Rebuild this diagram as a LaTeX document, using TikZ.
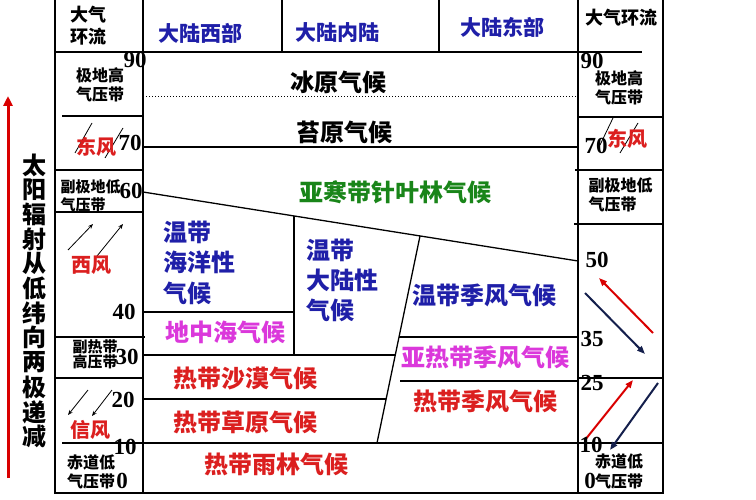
\documentclass[tikz,border=0pt]{standalone}
\usepackage{fontspec}
\setmainfont{Liberation Serif}
\newfontfamily\cjk{Noto Sans CJK SC}
\usepackage{tikz}
\usetikzlibrary{arrows.meta}
\definecolor{navytext}{rgb}{0.12, 0.12, 0.66}
\definecolor{redtext}{rgb}{0.86, 0.12, 0.12}
\definecolor{magtext}{rgb}{0.86, 0.22, 0.86}
\definecolor{greentext}{rgb}{0.10, 0.52, 0.10}
\definecolor{navyarrow}{rgb}{0.08, 0.12, 0.30}

\begin{document}
\begin{tikzpicture}[x=1pt,y=-1pt,
		frame/.style={line width=1.3pt},
		zone/.style={font=\cjk\bfseries\fontsize{24}{24}\selectfont},
		head/.style={font=\cjk\bfseries\fontsize{21}{21}\selectfont, color=navytext},
		belt/.style={font=\cjk\bfseries\fontsize{16}{19}\selectfont, align=center},
		wind/.style={font=\cjk\bfseries\fontsize{20}{20}\selectfont, color=redtext},
		lat/.style={font=\bfseries\fontsize{23}{23}\selectfont},
		windline/.style={line width=0.8pt, -{Stealth[length=5pt,width=4pt]}},
		bigarrow/.style={line width=2pt, -{Triangle[length=8pt,width=6pt]}}]
			\useasboundingbox (0,0) rectangle (756,500);
			\draw[frame] (55,0) -- (55,493) -- (663,493) -- (663,0);
			\draw[frame] (143,0) -- (143,493);
			\draw[frame] (578,0) -- (578,493);
			\draw[frame] (282,0) -- (282,52);
			\draw[frame] (439,0) -- (439,52);
			\draw[frame] (55,52) -- (578,52);
			\draw[frame] (570,52) -- (642,52);
			\draw[line width=1pt, dotted] (143,97) -- (578,97);
			\draw[frame] (143,147) -- (578,147);
			\draw[frame] (143,192) -- (578,261);
			\draw[frame] (294,216) -- (294,355);
			\draw[frame] (143,312) -- (294,312);
			\draw[frame] (143,355) -- (395,355);
			\draw[frame] (420,236) -- (377,443);
			\draw[frame] (143,399) -- (386,399);
			\draw[frame] (399,337) -- (578,337);
			\draw[frame] (400,381) -- (578,381);
			\draw[frame] (62,443) -- (663,443);
			\draw[frame] (62,116) -- (143,116);
			\draw[frame] (55,170) -- (143,170);
			\draw[frame] (55,212) -- (143,212);
			\draw[frame] (55,337) -- (145,337);
			\draw[frame] (55,378) -- (143,378);
			\draw[frame] (578,117) -- (663,117);
			\draw[frame] (575,170) -- (663,170);
			\draw[frame] (574,224) -- (663,224);
			\draw[frame] (578,378) -- (663,378);
			\draw[line width=3pt, red!85!black, -{Triangle[length=10pt,width=9pt]}] (8,478) -- (8,96);
			\foreach \c [count=\i from 0] in {太,阳,辐,射,从,低,纬,向,两,极,递,减}
				\node[font=\cjk\bfseries\fontsize{24}{24}\selectfont] (sun\i) at (35,165+24.7*\i) {\c};
			\node[head] (west) at (200,33) {大陆西部};
			\node[head] (inland) at (337,33) {大陆内陆};
			\node[head] (east) at (502,27) {大陆东部};
			\node[zone] (ice) at (338,82) {冰原气候};
			\node[zone] (tundra) at (344,132) {苔原气候};
			\node[zone, color=greentext] (taiga) at (395,192) {亚寒带针叶林气候};
			\node[zone, color=navytext, anchor=west] (ocean1) at (160,232) {温带};
			\node[zone, color=navytext, anchor=west] (ocean2) at (160,262) {海洋性};
			\node[zone, color=navytext, anchor=west] (ocean3) at (160,293) {气候};
			\node[zone, color=navytext, anchor=west] (cont1) at (303,250) {温带};
			\node[zone, color=navytext, anchor=west] (cont2) at (303,280) {大陆性};
			\node[zone, color=navytext, anchor=west] (cont3) at (303,310) {气候};
			\node[zone, color=navytext] (tmonsoon) at (484,295) {温带季风气候};
			\node[zone, color=magtext] (medit) at (225,332) {地中海气候};
			\node[zone, color=magtext] (smonsoon) at (485,357) {亚热带季风气候};
			\node[zone, color=redtext] (desert) at (245,378) {热带沙漠气候};
			\node[zone, color=redtext] (savanna) at (245,422) {热带草原气候};
			\node[zone, color=redtext] (rmonsoon) at (485,401) {热带季风气候};
			\node[zone, color=redtext] (rainforest) at (276,464) {热带雨林气候};
			\node[belt, font=\cjk\bfseries\fontsize{18}{22}\selectfont] (circL) at (88,26) {大气\\环流};
			\node[belt, font=\cjk\bfseries\fontsize{18}{22}\selectfont] (circR) at (621,18) {大气环流};
			\node[belt] (polarL) at (100,85) {极地高\\气压带};
			\node[belt] (polarR) at (619,88) {极地高\\气压带};
			\node[belt, align=left, anchor=west, font=\cjk\bfseries\fontsize{15}{18}\selectfont] (subpolarL) at (57,196) {副极地低\\气压带};
			\node[belt, align=left, anchor=west] (subpolarR) at (585,195) {副极地低\\气压带};
			\node[belt, align=left, anchor=west, font=\cjk\bfseries\fontsize{15}{15}\selectfont] (subtropL) at (69,354) {副热带\\高压带};
			\node[belt] (equatorL) at (91,472) {赤道低\\气压带};
			\node[belt] (equatorR1) at (619,461) {赤道低};
			\node[belt] (equatorR2) at (619,481) {气压带};
			\draw[line width=0.8pt] (92,123) -- (75,153);
			\draw[line width=0.8pt] (123,128) -- (105,158);
			\draw[line width=0.8pt] (613,118) -- (600,145);
			\draw[line width=0.8pt] (638,123) -- (620,153);
			\draw[windline] (68,250) -- (93,224);
			\draw[windline] (97,256) -- (123,224);
			\draw[windline] (88,390) -- (68,415);
			\draw[windline] (112,390) -- (92,416);
			\draw[bigarrow, red!85!black] (653,333) -- (599,278);
			\draw[bigarrow, navyarrow] (585,293) -- (645,354);
			\draw[bigarrow, red!85!black] (585,440) -- (633,380);
			\draw[bigarrow, navyarrow] (658,383) -- (610,450);
			\node[wind] (eastL) at (96,147) {东风};
			\node[wind] (eastR) at (627,139) {东风};
			\node[wind] (westerly) at (91,265) {西风};
			\node[wind] (trade) at (90,430) {信风};
			\node[lat] (l90) at (135,60) {90};
			\node[lat] (l70) at (130,143) {70};
			\node[lat, inner sep=0pt] (l60) at (131,191) {60};
			\node[lat] (l40) at (124,312) {40};
			\node[lat] (l30) at (127,357) {30};
			\node[lat] (l20) at (123,400) {20};
			\node[lat] (l10) at (125,447) {10};
			\node[lat] (l0) at (122,481) {0};
			\node[lat] (r90) at (592,61) {90};
			\node[lat] (r70) at (596,146) {70};
			\node[lat] (r50) at (597,260) {50};
			\node[lat] (r35) at (592,339) {35};
			\node[lat] (r25) at (592,383) {25};
			\node[lat] (r10) at (591,445) {10};
			\node[lat] (r0) at (590,481) {0};
		\end{tikzpicture}
\end{document}
